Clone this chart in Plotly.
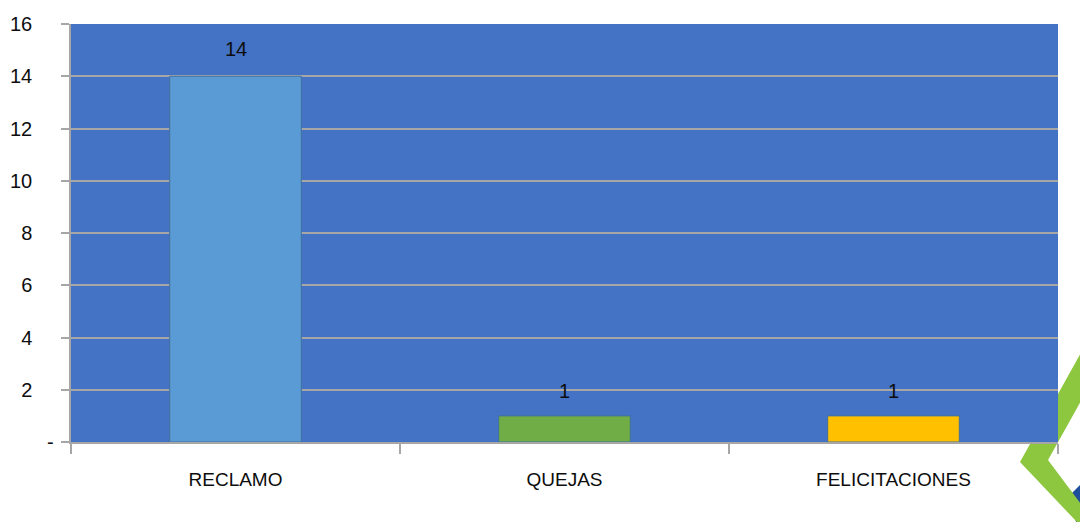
import plotly.graph_objects as go

categories = ["RECLAMO", "QUEJAS", "FELICITACIONES"]
values = [14, 1, 1]
bar_colors = ["#5B9BD5", "#70AD47", "#FFC000"]
y_tickvals = [0, 2, 4, 6, 8, 10, 12, 14, 16]
y_ticktext = ["", "2", "4", "6", "8", "10", "12", "14", "16"]
zero_label = "-"

OFF = 8  # page body margin
W, H = 1080, 514
L, R, T, B = 71, 1058, 24, 442  # plot area in screen pixels

def px(x):
    return (x - L) / (R - L)

def py(y):
    return (B - y) / (B - T)

def poly(pts):
    return "M " + " L ".join("{:.5f},{:.5f}".format(px(a), py(b)) for a, b in pts) + " Z"

fam = "Liberation Sans, Arial, sans-serif"
txt = "#0d0d0d"
font = dict(family=fam, size=19, color=txt)

fig = go.Figure()
fig.add_trace(go.Bar(
    x=categories, y=values,
    marker=dict(color=bar_colors, line=dict(color="#41719C", width=1)),
    width=0.4,
    hoverinfo="x+y",
))

annotations = []
for c, v in zip(categories, values):
    annotations.append(dict(
        x=c, y=v, xref="x", yref="y", text=str(v), showarrow=False,
        yanchor="middle", yshift=27 if v > 5 else 25,
        font=dict(family=fam, size=20, color=txt),
    ))
annotations.append(dict(
    x=px(50), y=0, xref="paper", yref="y", text=zero_label, showarrow=False,
    xanchor="center", yanchor="middle", font=dict(family=fam, size=20, color=txt),
))

green = [(1102, 315), (1020, 462), (1094, 540), (1108, 540), (1048, 460), (1129, 315)]
blue = [(1070, 495), (1100, 465), (1100, 540), (1080, 540)]
shapes = [
    dict(type="path", xref="paper", yref="paper", layer="below",
         path=poly(blue), fillcolor="#1F4E9A", line=dict(width=0)),
    dict(type="path", xref="paper", yref="paper", layer="below",
         path=poly(green), fillcolor="#8DC63F", line=dict(width=0)),
    dict(type="rect", xref="paper", yref="paper", layer="below",
         x0=0, x1=1, y0=0, y1=1, fillcolor="#4472C4", line=dict(width=0)),
]

fig.update_layout(
    width=W, height=H,
    margin=dict(l=L - OFF, r=W - (R - OFF), t=T - OFF, b=H - (B - OFF), autoexpand=False),
    paper_bgcolor="white", plot_bgcolor="#4472C4",
    showlegend=False,
    font=font,
    shapes=shapes,
    annotations=annotations,
    xaxis=dict(
        type="category", tickson="boundaries", ticks="outside", ticklen=10,
        tickcolor="#A6A6A6", tickwidth=1.5, automargin=False,
        showline=True, linecolor="#A6A6A6", linewidth=1.5,
        showgrid=False, tickfont=dict(family=fam, size=19, color=txt),
        ticklabelstandoff=19,
    ),
    yaxis=dict(
        range=[0, 16], tickvals=y_tickvals, ticktext=y_ticktext,
        ticks="outside", ticklen=8, tickcolor="#A6A6A6", tickwidth=1.5,
        showline=True, linecolor="#A6A6A6", linewidth=1.5, automargin=False,
        showgrid=True, gridcolor="#A6A6A6", gridwidth=1.5,
        zeroline=False, tickfont=dict(family=fam, size=20, color=txt),
        ticklabelstandoff=25,
    ),
)
fig.write_html("out.html")
